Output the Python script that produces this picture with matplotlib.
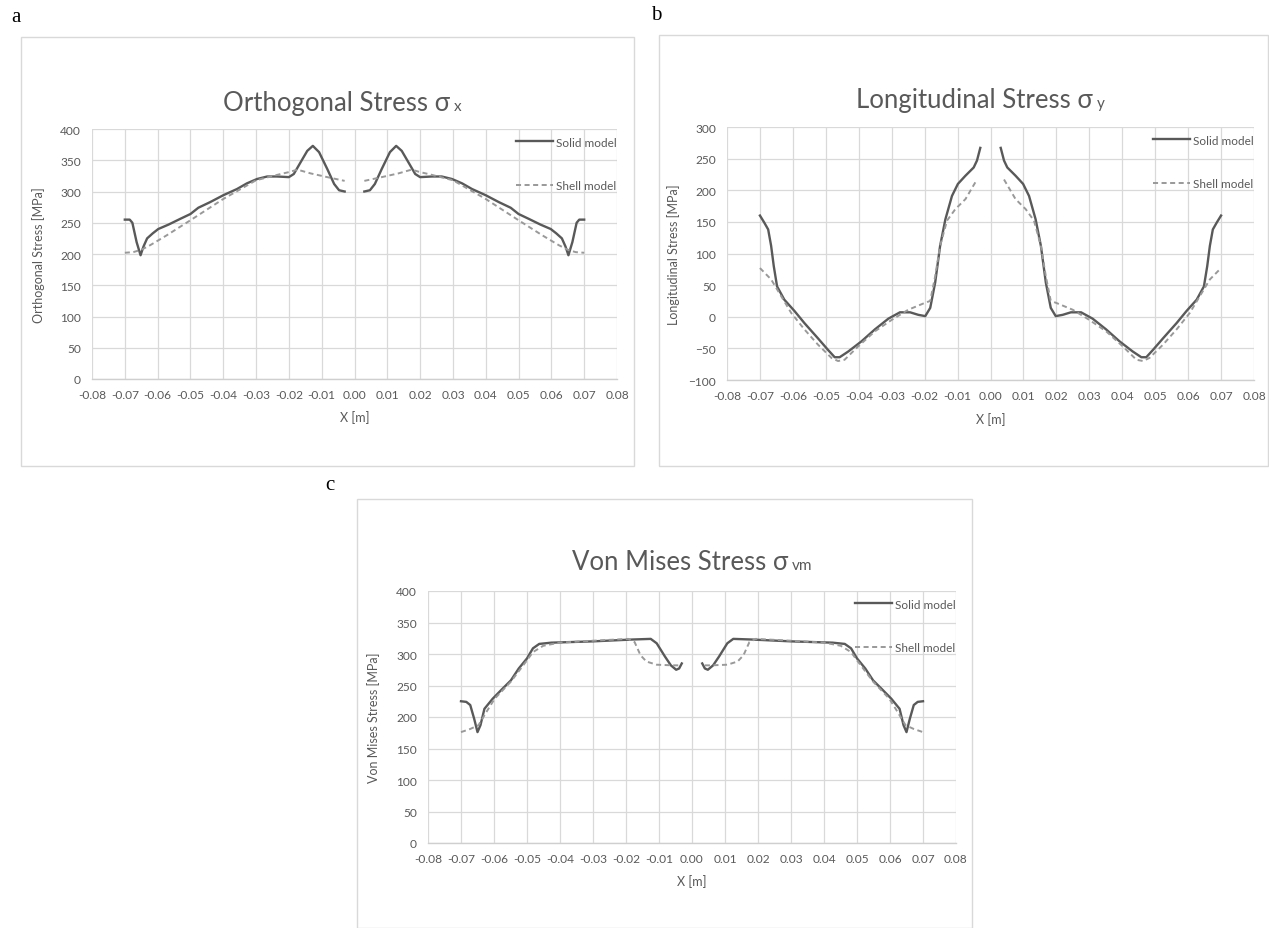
import numpy as np
import matplotlib
matplotlib.use("Agg")
import matplotlib.pyplot as plt
from matplotlib.patches import Rectangle

nan = float("nan")

# ---------------- data ----------------
x_ticks = [-0.08, -0.07, -0.06, -0.05, -0.04, -0.03, -0.02, -0.01, 0.00,
           0.01, 0.02, 0.03, 0.04, 0.05, 0.06, 0.07, 0.08]
x_tick_labels = ["-0.08", "-0.07", "-0.06", "-0.05", "-0.04", "-0.03", "-0.02", "-0.01", "0.00",
                 "0.01", "0.02", "0.03", "0.04", "0.05", "0.06", "0.07", "0.08"]

# (a) Orthogonal stress
a_solid_x = [-0.0700, -0.0685, -0.0677, -0.0664, -0.0652, -0.0643, -0.0632, -0.0615, -0.0598, -0.0567,
             -0.0532, -0.0500, -0.0476, -0.0440, -0.0400, -0.0358, -0.0328, -0.0297, -0.0266, -0.0236,
             -0.0200, -0.0185, -0.0164, -0.0144, -0.0127, -0.0108, -0.0083, -0.0062, -0.0047, -0.0030,
             nan,
             0.0030, 0.0047, 0.0062, 0.0083, 0.0108, 0.0127, 0.0144, 0.0164, 0.0185, 0.0200,
             0.0236, 0.0266, 0.0297, 0.0328, 0.0358, 0.0400, 0.0440, 0.0476, 0.0500, 0.0532,
             0.0567, 0.0598, 0.0615, 0.0632, 0.0643, 0.0652, 0.0664, 0.0677, 0.0685, 0.0700]
a_solid_y = [255, 255, 250, 219, 198, 212, 225, 233, 240, 247,
             256, 264, 274, 283, 294, 304, 313, 320, 324, 324,
             323, 328, 347, 365, 373, 363, 336, 312, 302, 300,
             nan,
             300, 302, 312, 336, 363, 373, 365, 347, 328, 323,
             324, 324, 320, 313, 304, 294, 283, 274, 264, 256,
             247, 240, 233, 225, 212, 198, 219, 250, 255, 255]
a_shell_x = [-0.0700, -0.0674, -0.0649, -0.0623, -0.0572, -0.0500, -0.0400, -0.0300, -0.0225, -0.0200,
             -0.0174, -0.0134, -0.0083, -0.0030,
             nan,
             0.0030, 0.0083, 0.0134, 0.0174, 0.0200, 0.0225, 0.0300, 0.0400, 0.0500, 0.0572,
             0.0623, 0.0649, 0.0674, 0.0700]
a_shell_y = [202, 203, 207, 214, 230, 254, 288, 318, 328, 331,
             335, 329, 323, 317,
             nan,
             317, 323, 329, 335, 331, 328, 318, 288, 254, 230,
             214, 207, 203, 202]

# (b) Longitudinal stress
b_solid_x = [-0.0700, -0.0687, -0.0675, -0.0666, -0.0658, -0.0648, -0.0626, -0.0595, -0.0565, -0.0524,
             -0.0494, -0.0473, -0.0458, -0.0432, -0.0392, -0.0351, -0.0310, -0.0275, -0.0244, -0.0219,
             -0.0198, -0.0183, -0.0168, -0.0153, -0.0137, -0.0117, -0.0099, -0.0076, -0.0051, -0.0041,
             -0.0031,
             nan,
             0.0031, 0.0041, 0.0051, 0.0076, 0.0099, 0.0117, 0.0137, 0.0153, 0.0168, 0.0183,
             0.0198, 0.0219, 0.0244, 0.0275, 0.0310, 0.0351, 0.0392, 0.0432, 0.0458, 0.0473,
             0.0494, 0.0524, 0.0565, 0.0595, 0.0626, 0.0648, 0.0658, 0.0666, 0.0675, 0.0687,
             0.0700]
b_solid_y = [160, 149, 138, 112, 80, 48, 27, 9, -10, -34,
             -52, -64, -64, -55, -39, -20, -3, 7, 7, 3,
             1, 14, 54, 112, 154, 191, 210, 223, 236, 247,
             267,
             nan,
             267, 247, 236, 223, 210, 191, 154, 112, 54, 14,
             1, 3, 7, 7, -3, -20, -39, -55, -64, -64,
             -52, -34, -10, 9, 27, 48, 80, 112, 138, 149,
             160]
b_shell_x = [-0.0700, -0.0666, -0.0636, -0.0605, -0.0565, -0.0524, -0.0483, -0.0463, -0.0443, -0.0402,
             -0.0351, -0.0300, -0.0250, -0.0199, -0.0183, -0.0168, -0.0153, -0.0132, -0.0107, -0.0076,
             -0.0041,
             nan,
             0.0041, 0.0076, 0.0107, 0.0132, 0.0153, 0.0168, 0.0183, 0.0199, 0.0250, 0.0300,
             0.0351, 0.0402, 0.0443, 0.0463, 0.0483, 0.0524, 0.0565, 0.0605, 0.0636, 0.0666,
             0.0700]
b_shell_y = [77, 59, 33, 6, -20, -44, -65, -70, -68, -47,
             -23, -5, 11, 22, 25, 64, 112, 152, 170, 186,
             217,
             nan,
             217, 186, 170, 152, 112, 64, 25, 22, 11, -5,
             -23, -47, -68, -70, -65, -44, -20, 6, 33, 59,
             77]

# (c) Von Mises stress
c_solid_x = [-0.0700, -0.0684, -0.0672, -0.0660, -0.0650, -0.0641, -0.0629, -0.0604, -0.0574, -0.0549,
             -0.0525, -0.0500, -0.0482, -0.0463, -0.0426, -0.0303, -0.0180, -0.0125, -0.0107, -0.0082,
             -0.0064, -0.0048, -0.0039, -0.0031,
             nan,
             0.0031, 0.0039, 0.0048, 0.0064, 0.0082, 0.0107, 0.0125, 0.0180, 0.0303, 0.0426,
             0.0463, 0.0482, 0.0500, 0.0525, 0.0549, 0.0574, 0.0604, 0.0629, 0.0641, 0.0650,
             0.0660, 0.0672, 0.0684, 0.0700]
c_solid_y = [225, 224, 219, 197, 176, 187, 213, 229, 245, 258,
             277, 293, 309, 316, 318, 320, 323, 324, 317, 296,
             282, 275, 277, 285,
             nan,
             285, 277, 275, 282, 296, 317, 324, 323, 320, 318,
             316, 309, 293, 277, 258, 245, 229, 213, 187, 176,
             197, 219, 224, 225]
c_shell_x = [-0.0700, -0.0672, -0.0647, -0.0623, -0.0598, -0.0549, -0.0500, -0.0482, -0.0451, -0.0402,
             -0.0303, -0.0193, -0.0174, -0.0156, -0.0138, -0.0107, -0.0058, -0.0039,
             nan,
             0.0039, 0.0058, 0.0107, 0.0138, 0.0156, 0.0174, 0.0193, 0.0303, 0.0402, 0.0451,
             0.0482, 0.0500, 0.0549, 0.0598, 0.0623, 0.0647, 0.0672, 0.0700]
c_shell_y = [176, 181, 187, 208, 229, 256, 290, 303, 313, 318,
             321, 324, 319, 298, 288, 283, 282, 282,
             nan,
             282, 282, 283, 288, 298, 319, 324, 321, 318, 313,
             303, 290, 256, 229, 208, 187, 181, 176]

a_y_ticks = [0, 50, 100, 150, 200, 250, 300, 350, 400]
b_y_ticks = [-100, -50, 0, 50, 100, 150, 200, 250, 300]
c_y_ticks = [0, 50, 100, 150, 200, 250, 300, 350, 400]

series_labels = ["Solid model", "Shell model"]

# ---------------- styling ----------------
W, H = 1269, 929
FONT = "Lato"
TXT = "#595959"
GRID = "#d9d9d9"
SOLID_C = "#595959"
SHELL_C = "#999999"

plt.rcParams["font.family"] = [FONT, "DejaVu Sans"]

fig = plt.figure(figsize=(W / 100, H / 100), dpi=100)
fig.patch.set_facecolor("white")


def px_rect(l, t, r, b):
    return [l / W, 1 - b / H, (r - l) / W, (b - t) / H]


def box(l, t, r, b):
    fig.patches.append(Rectangle((l / W, 1 - b / H), (r - l) / W, (b - t) / H,
                                 transform=fig.transFigure, fill=False,
                                 edgecolor=GRID, linewidth=1.0))


def make_axes(rect, yticks, ylabel, sx, sy, hx, hy):
    ax = fig.add_axes(rect)
    ax.plot(sx, sy, color=SOLID_C, linewidth=1.7, label=series_labels[0], zorder=3,
            solid_joinstyle="round")
    ax.plot(hx, hy, color=SHELL_C, linewidth=1.4, linestyle=(0, (2.6, 1.8)),
            label=series_labels[1], zorder=3)
    ax.set_xlim(x_ticks[0], x_ticks[-1])
    ax.set_ylim(yticks[0], yticks[-1])
    ax.set_xticks(x_ticks)
    ax.set_xticklabels(x_tick_labels)
    ax.set_yticks(yticks)
    ax.grid(True, color=GRID, linewidth=0.9, zorder=0)
    ax.set_axisbelow(True)
    for s in ["top", "right", "left"]:
        ax.spines[s].set_visible(False)
    ax.spines["bottom"].set_color("#cfcfcf")
    ax.spines["bottom"].set_linewidth(1.0)
    ax.tick_params(length=0, labelsize=8.6, labelcolor=TXT)
    ax.tick_params(axis="x", pad=7)
    ax.tick_params(axis="y", pad=8)
    ax.set_xlabel("X [m]", fontsize=9, color=TXT)
    ax.xaxis.set_label_coords(0.5, -0.125)
    ax.set_ylabel(ylabel, fontsize=9, color=TXT)
    ax.yaxis.set_label_coords(-0.09, 0.5)
    ax.legend(loc="upper right", bbox_to_anchor=(1.0, 0.97), frameon=False,
              fontsize=8.5, labelcolor=TXT, handlelength=3.1, handletextpad=0.3,
              labelspacing=2.78, borderaxespad=0, borderpad=0)
    return ax


# boxes
box(20.7, 37.7, 634, 467)
box(658.7, 36, 1268, 467)
box(356.7, 500, 972, 928.5)

ax_a = make_axes(px_rect(92, 130, 617, 380), a_y_ticks, "Orthogonal Stress [MPa]",
                 a_solid_x, a_solid_y, a_shell_x, a_shell_y)
ax_b = make_axes(px_rect(727, 128, 1254, 381), b_y_ticks, "Longitudinal Stress [MPa]",
                 b_solid_x, b_solid_y, b_shell_x, b_shell_y)
ax_c = make_axes(px_rect(428, 592, 956, 844), c_y_ticks, "Von Mises Stress [MPa]",
                 c_solid_x, c_solid_y, c_shell_x, c_shell_y)

# titles with small suffix
renderer = fig.canvas.get_renderer()


def title(xc_px, base_px, main, sub):
    yb = 1 - base_px / H
    t1 = fig.text(0, yb, main, fontsize=18.5, color=TXT, va="baseline", ha="left")
    t2 = fig.text(0, yb, sub, fontsize=11, color=TXT, va="baseline", ha="left")
    w1 = t1.get_window_extent(renderer).width
    w2 = t2.get_window_extent(renderer).width
    gap = 4
    left = xc_px - (w1 + gap + w2) / 2
    t1.set_x(left / W)
    t2.set_x((left + w1 + gap) / W)


title(342, 111, "Orthogonal Stress σ", "x")
title(980, 108, "Longitudinal Stress σ", "y")
title(692, 570, "Von Mises Stress σ", "vm")

# panel letters
fig.text(16 / W, 1 - 17 / H, "a", fontsize=15, family="Liberation Serif", ha="center", va="center")
fig.text(656 / W, 1 - 15 / H, "b", fontsize=15, family="Liberation Serif", ha="center", va="center")
fig.text(330 / W, 1 - 486 / H, "c", fontsize=15, family="Liberation Serif", ha="center", va="center")

fig.savefig("out.png", dpi=100, facecolor="white")
